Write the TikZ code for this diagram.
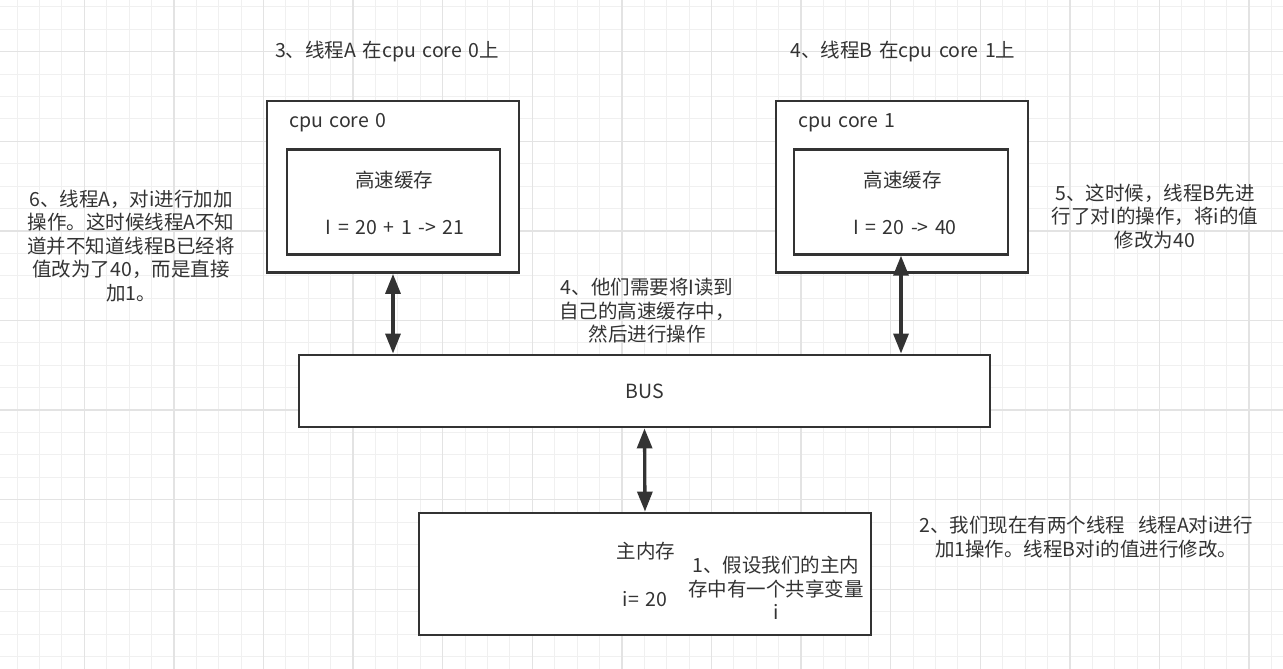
\documentclass[tikz,border=0pt]{standalone}
\usepackage{fontspec}
\setmainfont{Noto Sans CJK SC}[WordSpace=1.5]
\usetikzlibrary{arrows.meta}
\definecolor{inkgray}{HTML}{333333}
\definecolor{gridminor}{HTML}{F0F0F0}
\definecolor{gridmajor}{HTML}{E3E3E3}

\begin{document}
\begin{tikzpicture}[x=1pt,y=-1pt]
					\tikzstyle{box} = [rectangle,draw=inkgray,line width=2.9pt,fill=white,inner sep=0pt]
					\tikzstyle{label} = [text=inkgray,align=center,inner sep=0pt,font=\fontsize{19.5}{23.5}\selectfont]
					\tikzstyle{biarrow} = [draw=inkgray,line width=3.3pt,{Triangle[width=15pt,length=20pt]}-{Triangle[width=15pt,length=20pt]}]
					% background grid
					\useasboundingbox (0,0) rectangle (1283,669);
					\fill[white] (0,0) rectangle (1283,669);
					\foreach \k in {0,...,57} \draw[gridminor,line width=1pt] (17.1+22.4*\k,0) -- (17.1+22.4*\k,669);
					\foreach \k in {0,...,29} \draw[gridminor,line width=1pt] (0,6.9+22.4*\k) -- (1283,6.9+22.4*\k);
					\foreach \k in {0,...,13} \draw[gridmajor,line width=1.3pt] (84.3+89.6*\k,0) -- (84.3+89.6*\k,669);
					\foreach \k in {0,...,6} \draw[gridmajor,line width=1.3pt] (0,51.7+89.6*\k) -- (1283,51.7+89.6*\k);
					% boxes
					\node[box,minimum width=252pt,minimum height=171.5pt] (core0) at (393,186.7) {};
					\node[box,minimum width=213pt,minimum height=105pt] (cache0) at (393.5,201.7) {};
					\node[box,minimum width=252pt,minimum height=171.5pt] (core1) at (902,186.7) {};
					\node[box,minimum width=214pt,minimum height=105pt] (cache1) at (901,201.7) {};
					\node[box,minimum width=691pt,minimum height=72pt] (bus) at (644.5,391) {};
					\node[box,minimum width=452pt,minimum height=122pt] (mem) at (645,574) {};
					% texts in boxes
					\node[label,anchor=base west] (core0name) at (289,127) {cpu core 0};
					\node[label,anchor=base west] (core1name) at (798,127) {cpu core 1};
					\node[label] (cache0name) at (394,180) {高速缓存};
					\node[label] (cache0val) at (395,227) {I = 20 + 1 -> 21};
					\node[label] (cache1name) at (902.5,180) {高速缓存};
					\node[label] (cache1val) at (905,227) {I = 20 -> 40};
					\node[label] (busname) at (645,391) {BUS};
					\node[label] (memname) at (646,551.5) {主内存};
					\node[label] (memval) at (645,599) {i= 20};
					\node[label] (note1) at (776,588) {1、假设我们的主内\\存中有一个共享变量\\i};
					% notes
					\node[label] (note3) at (387,52) {3、线程A 在cpu core 0上};
					\node[label] (note4b) at (903,52) {4、线程B 在cpu core 1上};
					\node[label] (note6) at (131,246) {6、线程A，对i进行加加\\操作。这时候线程A不知\\道并不知道线程B已经将\\值改为了40，而是直接\\加1。};
					\node[label] (note5) at (1155,216.5) {5、这时候，线程B先进\\行了对I的操作，将i的值\\修改为40};
					\node[label] (note4) at (647,311) {4、他们需要将I读到\\自己的高速缓存中，\\然后进行操作};
					\node[label] (note2) at (1086,537) {2、我们现在有两个线程~~线程A对i进行\\加1操作。线程B对i的值进行修改。};
					% connectors
					\draw[biarrow] (core0.south) -- (core0.south |- bus.north);
					\draw[biarrow] (cache1.south) -- (cache1.south |- bus.north);
					\draw[biarrow] (bus.south) -- (mem.north);
					\end{tikzpicture}
\end{document}
